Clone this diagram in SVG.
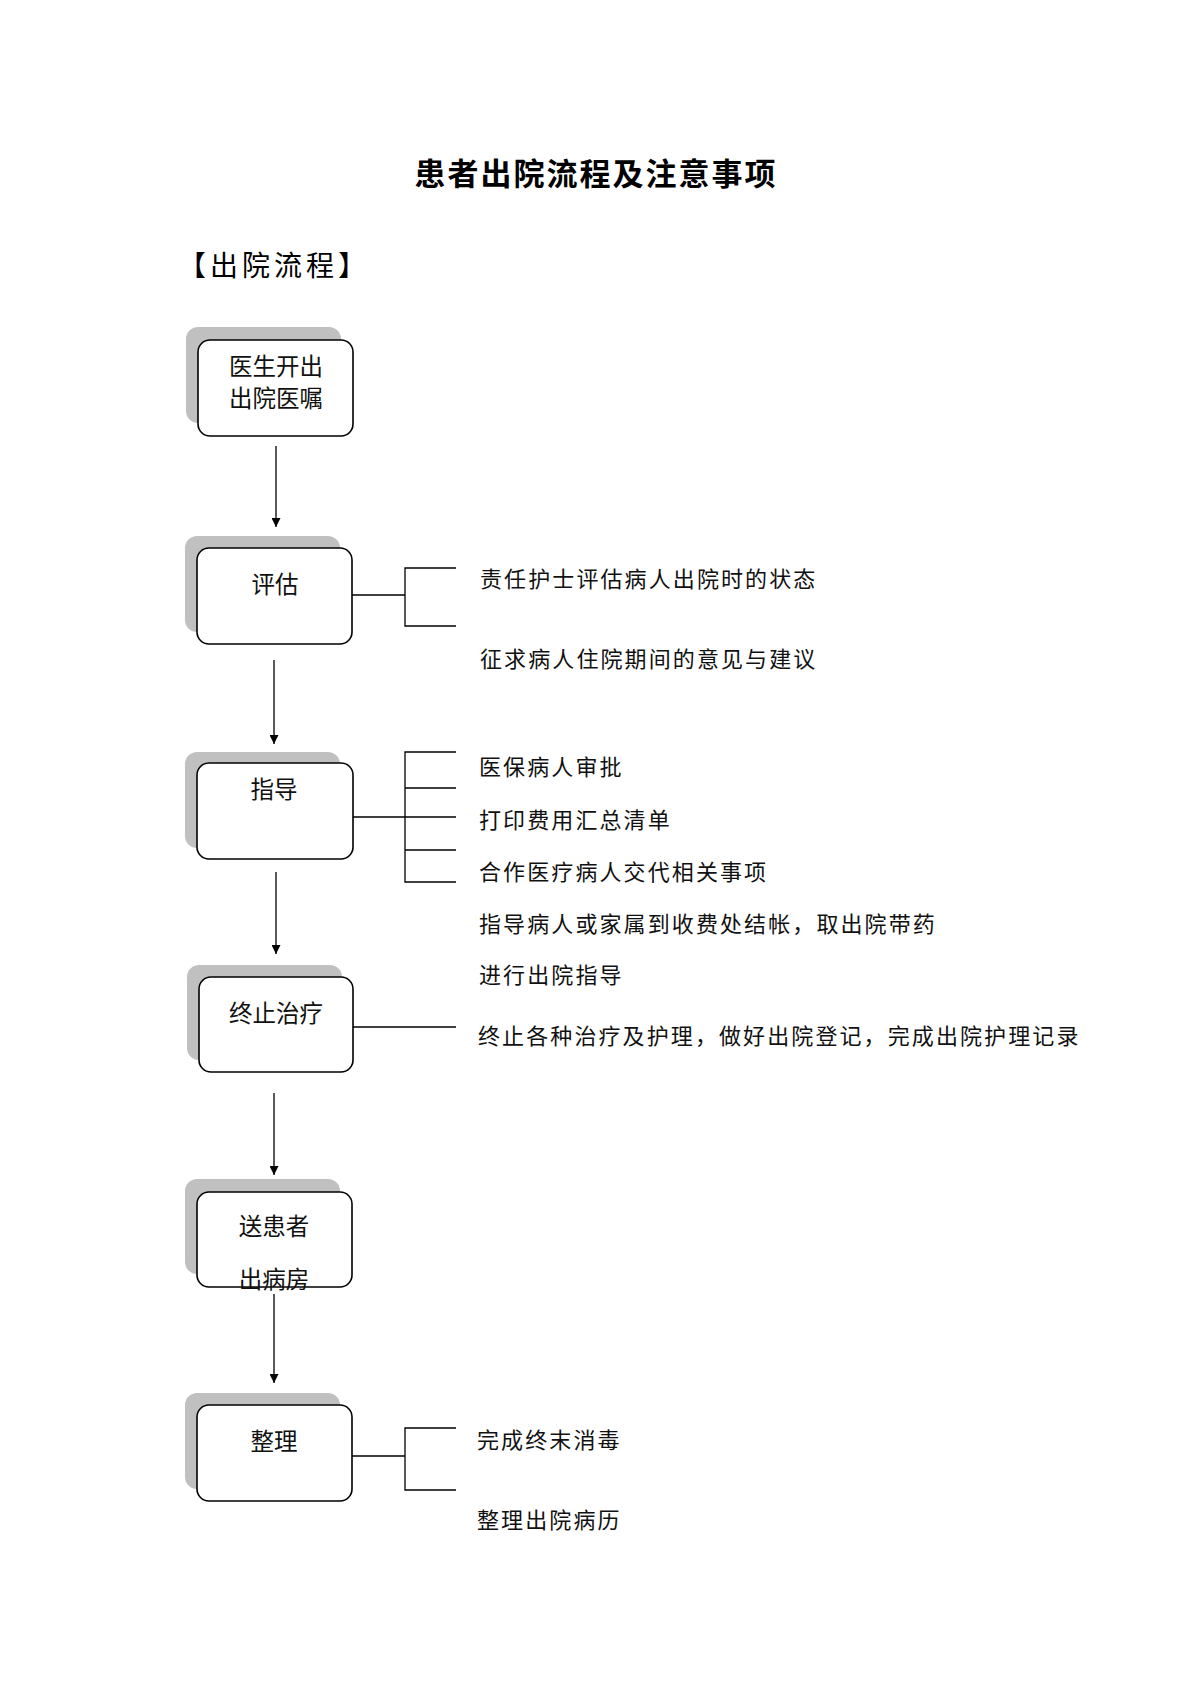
<svg xmlns="http://www.w3.org/2000/svg" width="1190" height="1684" viewBox="0 0 1190 1684">
<defs>
<style>
.t{font-family:"Liberation Sans","Noto Sans CJK SC",sans-serif;font-size:22px;fill:#111;}
.bt{font-size:23.5px;}
.side{letter-spacing:2.1px;}
.box{fill:#fff;stroke:#000;stroke-width:1.6;}
.sh{fill:#c0c0c0;}
.c{stroke:#000;stroke-width:1.3;fill:none;}
.ttl{font-family:"Noto Sans CJK SC",sans-serif;font-size:31px;font-weight:bold;letter-spacing:2px;fill:#000;}
.hd{font-family:"Noto Sans CJK SC",sans-serif;font-size:28px;letter-spacing:4px;fill:#000;}
</style>
<marker id="ah" viewBox="0 0 10 10" refX="10" refY="5" markerWidth="9" markerHeight="9" markerUnits="userSpaceOnUse" orient="auto">
<path d="M0,0 L10,5 L0,10 Z" fill="#000"/>
</marker>
</defs>
<rect width="1190" height="1684" fill="#fff"/>
<text class="ttl" x="596" y="185" text-anchor="middle">患者出院流程及注意事项</text>
<text class="hd" x="178" y="276">【出院流程】</text>

<g id="n1">
<rect class="sh" x="186" y="327" width="155" height="96" rx="12"/>
<rect class="box" x="198" y="340" width="155" height="96" rx="12"/>
<text class="t bt" x="276" y="375" text-anchor="middle">医生开出</text>
<text class="t bt" x="276" y="407" text-anchor="middle">出院医嘱</text>
</g>
<g id="n2">
<rect class="sh" x="185" y="536" width="155" height="96" rx="12"/>
<rect class="box" x="197" y="548" width="155" height="96" rx="12"/>
<text class="t bt" x="275" y="593" text-anchor="middle">评估</text>
</g>
<g id="n3">
<rect class="sh" x="185" y="752" width="155" height="96" rx="12"/>
<rect class="box" x="197" y="763" width="156" height="96" rx="12"/>
<text class="t bt" x="274" y="798" text-anchor="middle">指导</text>
</g>
<g id="n4">
<rect class="sh" x="187" y="965" width="155" height="95" rx="12"/>
<rect class="box" x="199" y="977" width="154" height="95" rx="12"/>
<text class="t bt" x="276" y="1022" text-anchor="middle">终止治疗</text>
</g>
<g id="n5">
<rect class="sh" x="185" y="1179" width="155" height="95" rx="12"/>
<rect class="box" x="197" y="1192" width="155" height="95" rx="12"/>
<text class="t bt" x="274" y="1235" text-anchor="middle">送患者</text>
<text class="t bt" x="274" y="1288" text-anchor="middle">出病房</text>
</g>
<g id="n6">
<rect class="sh" x="185" y="1393" width="155" height="96" rx="12"/>
<rect class="box" x="197" y="1405" width="155" height="96" rx="12"/>
<text class="t bt" x="274" y="1450" text-anchor="middle">整理</text>
</g>

<g id="connectors">
<line class="c" x1="276" y1="446" x2="276" y2="527" marker-end="url(#ah)"/>
<line class="c" x1="274" y1="660" x2="274" y2="744" marker-end="url(#ah)"/>
<line class="c" x1="276" y1="872" x2="276" y2="954" marker-end="url(#ah)"/>
<line class="c" x1="274" y1="1093" x2="274" y2="1175" marker-end="url(#ah)"/>
<line class="c" x1="274" y1="1294" x2="274" y2="1383" marker-end="url(#ah)"/>

<path class="c" d="M352,595 H405 M456,568 H405 V626 H456"/>
<path class="c" d="M353,817 H456 M456,752 H405 V882 H456 M405,788 H456 M405,850 H456"/>
<path class="c" d="M353,1027 H456"/>
<path class="c" d="M352,1456 H405 M456,1428 H405 V1490 H456"/>
</g>

<g id="labels">
<text class="t side" x="480" y="587">责任护士评估病人出院时的状态</text>
<text class="t side" x="480" y="667">征求病人住院期间的意见与建议</text>
<text class="t side" x="479" y="775">医保病人审批</text>
<text class="t side" x="479" y="828">打印费用汇总清单</text>
<text class="t side" x="479" y="880">合作医疗病人交代相关事项</text>
<text class="t side" x="479" y="932">指导病人或家属到收费处结帐，取出院带药</text>
<text class="t side" x="479" y="983">进行出院指导</text>
<text class="t side" x="478" y="1044">终止各种治疗及护理，做好出院登记，完成出院护理记录</text>
<text class="t side" x="477" y="1448">完成终末消毒</text>
<text class="t side" x="477" y="1528">整理出院病历</text>
</g>
</svg>
